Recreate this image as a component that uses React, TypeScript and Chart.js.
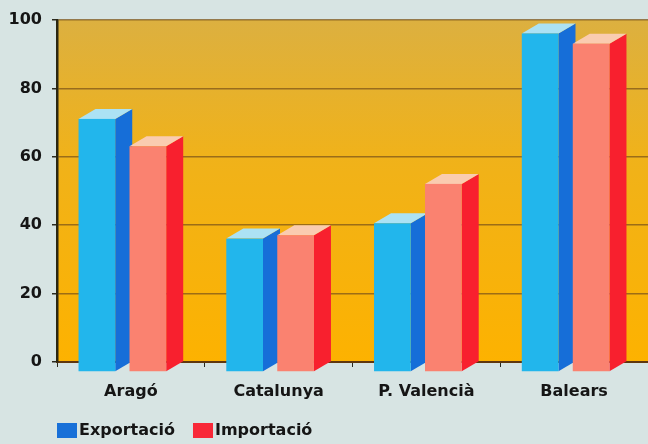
import React, { useEffect, useRef } from 'react';
import { Chart, registerables } from 'chart.js';

Chart.register(...registerables);

const categories = ['Aragó', 'Catalunya', 'P. Valencià', 'Balears'];
const exportacio = [74, 39, 43.5, 99];
const importacio = [66, 40, 55, 96];
const seriesLabels = ['Exportació', 'Importació'];
const yMin = 0;
const yMax = 100;
const yStep = 20;

const DEPTH_X = 17;
const DEPTH_Y = 10;
const FONT_FAMILY = '"DejaVu Sans", "Liberation Sans", sans-serif';

const seriesStyles = [
  { front: 'rgb(34,182,236)', side: 'rgb(22,110,216)', top: 'rgb(172,226,244)', legend: 'rgb(24,112,216)' },
  { front: 'rgb(250,130,112)', side: 'rgb(248,32,46)', top: 'rgb(250,204,176)', legend: 'rgb(248,40,56)' },
];

const bgPlugin = {
  id: 'bgPlugin',
  beforeDraw(chart: any) {
    const { ctx, chartArea: a, width, height } = chart;
    ctx.save();
    ctx.fillStyle = 'rgb(215,228,227)';
    ctx.fillRect(0, 0, width, height);
    const g = ctx.createLinearGradient(0, a.top, 0, a.bottom);
    g.addColorStop(0, 'rgb(220,176,64)');
    g.addColorStop(0.4, 'rgb(240,178,26)');
    g.addColorStop(1, 'rgb(253,178,0)');
    ctx.fillStyle = g;
    ctx.fillRect(a.left, a.top, a.right - a.left, a.bottom - a.top);
    ctx.restore();
  },
};

const bar3dPlugin = {
  id: 'bar3dPlugin',
  afterDatasetsDraw(chart: any) {
    const ctx = chart.ctx;
    const n = chart.data.labels.length;
    ctx.save();
    for (let i = 0; i < n; i++) {
      chart.data.datasets.forEach((_ds: any, d: number) => {
        const meta = chart.getDatasetMeta(d);
        const el = meta.data[i];
        if (!el) return;
        const { x, y, base, width } = el.getProps(['x', 'y', 'base', 'width'], true);
        const st = seriesStyles[d];
        const bx0 = x - width / 2 + DEPTH_X / 2;
        const bx1 = x + width / 2 + DEPTH_X / 2;
        const fx0 = bx0 - DEPTH_X;
        const fx1 = bx1 - DEPTH_X;
        const fTop = y + DEPTH_Y;
        const fBot = base + DEPTH_Y;
        ctx.fillStyle = st.side;
        ctx.beginPath();
        ctx.moveTo(fx1, fTop);
        ctx.lineTo(bx1, y);
        ctx.lineTo(bx1, base);
        ctx.lineTo(fx1, fBot);
        ctx.closePath();
        ctx.fill();
        ctx.fillStyle = st.top;
        ctx.beginPath();
        ctx.moveTo(fx0, fTop);
        ctx.lineTo(bx0, y);
        ctx.lineTo(bx1, y);
        ctx.lineTo(fx1, fTop);
        ctx.closePath();
        ctx.fill();
        ctx.fillStyle = st.front;
        ctx.fillRect(fx0, fTop, fx1 - fx0, fBot - fTop);
      });
    }
    ctx.restore();
  },
};

const legendPlugin = {
  id: 'legendPlugin',
  afterDraw(chart: any) {
    const ctx = chart.ctx;
    ctx.save();
    ctx.font = `bold 16px ${FONT_FAMILY}`;
    ctx.textBaseline = 'middle';
    ctx.textAlign = 'left';
    let x = chart.chartArea.left;
    const yMid = 431;
    chart.data.datasets.forEach((ds: any, i: number) => {
      ctx.fillStyle = seriesStyles[i].legend;
      ctx.fillRect(x, yMid - 8, 20, 15);
      ctx.fillStyle = '#151515';
      ctx.fillText(ds.label, x + 22, yMid);
      x += 22 + ctx.measureText(ds.label).width + 18;
    });
    ctx.restore();
  },
};

export default function App() {
  const canvasRef = useRef<HTMLCanvasElement | null>(null);

  useEffect(() => {
    document.body.style.margin = '0';
    const canvas = canvasRef.current;
    if (!canvas) return;
    const tickFont = { family: FONT_FAMILY, size: 16, weight: 'bold' as const };
    const chart = new Chart(canvas, {
      type: 'bar',
      data: {
        labels: categories,
        datasets: [
          { label: seriesLabels[0], data: exportacio, backgroundColor: 'rgba(0,0,0,0)', borderWidth: 0 },
          { label: seriesLabels[1], data: importacio, backgroundColor: 'rgba(0,0,0,0)', borderWidth: 0 },
        ],
      },
      options: {
        responsive: false,
        maintainAspectRatio: false,
        animation: false,
        devicePixelRatio: 1,
        layout: { padding: { top: 20, right: -6, left: 0, bottom: 0 } },
        datasets: { bar: { categoryPercentage: 0.69, barPercentage: 0.72 } },
        plugins: {
          legend: { display: false },
          tooltip: { enabled: false },
        },
        scales: {
          x: {
            grid: {
              display: true,
              drawOnChartArea: false,
              drawTicks: true,
              tickLength: 5,
              tickColor: '#2a2a20',
              offset: true,
            },
            border: { display: true, color: 'rgb(95,55,15)', width: 2 },
            ticks: { color: '#151515', font: tickFont, padding: 15 },
            afterFit: (s: any) => {
              s.height = 82;
            },
          },
          y: {
            min: yMin,
            max: yMax,
            ticks: { stepSize: yStep, color: '#151515', font: tickFont, padding: 10 },
            grid: {
              color: 'rgba(125,85,25,0.75)',
              lineWidth: 1.5,
              tickColor: '#2a2a20',
              tickLength: 5,
            },
            border: { display: true, color: '#2a2612', width: 2.5 },
            afterFit: (s: any) => {
              s.width = 57;
            },
          },
        },
      },
      plugins: [bgPlugin, bar3dPlugin, legendPlugin],
    });
    return () => chart.destroy();
  }, []);

  return (
    <div style={{ width: 648, height: 444, position: 'relative' }}>
      <canvas ref={canvasRef} width={648} height={444} style={{ display: 'block' }} />
    </div>
  );
}
